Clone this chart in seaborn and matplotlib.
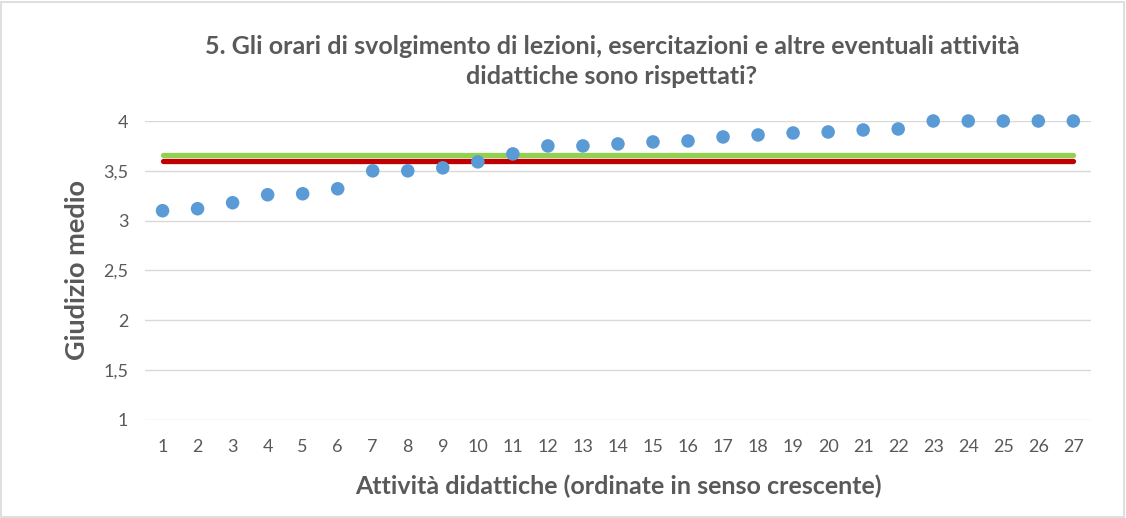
import matplotlib
matplotlib.use("Agg")
import matplotlib.pyplot as plt
import seaborn as sns
import numpy as np
import pandas as pd
from matplotlib.patches import Rectangle

# Data
attivita = list(range(1, 28))
giudizio = [3.10, 3.12, 3.18, 3.26, 3.27, 3.32, 3.50, 3.50, 3.53, 3.59,
            3.67, 3.75, 3.75, 3.77, 3.79, 3.80, 3.84, 3.86, 3.88, 3.89,
            3.91, 3.92, 4.00, 4.00, 4.00, 4.00, 4.00]
media_verde = 3.66
media_rossa = 3.60
y_ticks = [1, 1.5, 2, 2.5, 3, 3.5, 4]
y_labels = ["1", "1,5", "2", "2,5", "3", "3,5", "4"]

df = pd.DataFrame({"attivita": attivita, "giudizio": giudizio})
df["verde"] = media_verde
df["rossa"] = media_rossa

sns.set_style("white")
plt.rcParams['font.family'] = ['Lato', 'DejaVu Sans']

grey = "#595959"
fig = plt.figure(figsize=(11.26, 5.18), dpi=100)
ax = fig.add_axes([0.1288, 0.1892, 0.8400, 0.5772])

for y in y_ticks:
    ax.axhline(y, color="#D9D9D9", lw=1.0, zorder=0)

sns.lineplot(data=df, x="attivita", y="verde", ax=ax, color="#92D050", lw=3.8,
             solid_capstyle="round", zorder=2)
sns.lineplot(data=df, x="attivita", y="rossa", ax=ax, color="#C00000", lw=3.8,
             solid_capstyle="round", zorder=3)
sns.scatterplot(data=df, x="attivita", y="giudizio", ax=ax, color="#5B9BD5", s=95,
                edgecolor="none", zorder=4, clip_on=False)

ax.set_xlim(0.5, 27.5)
ax.set_ylim(1, 4)
ax.set_xticks(attivita)
ax.set_xticklabels([str(a) for a in attivita])
ax.set_yticks(y_ticks)
ax.set_yticklabels(y_labels)
ax.tick_params(axis="both", length=0, labelsize=13, colors=grey)
ax.tick_params(axis="x", pad=14)
ax.tick_params(axis="y", pad=12)
for s in ax.spines.values():
    s.set_visible(False)

ax.set_xlabel("Attività didattiche (ordinate in senso crescente)", fontsize=18,
              fontweight="bold", color=grey, labelpad=14)
ax.set_ylabel("Giudizio medio", fontsize=19.5, fontweight="bold", color=grey, labelpad=10)

fig.text(0.5435, 0.882, "5. Gli orari di svolgimento di lezioni, esercitazioni e altre eventuali attività\ndidattiche sono rispettati?",
         ha="center", va="center", fontsize=18, fontweight="bold", color=grey,
         linespacing=1.38)

fig.patches.append(Rectangle((0.001, 0.002), 0.997, 0.995, transform=fig.transFigure,
                             fill=False, edgecolor="#D9D9D9", lw=1.2))

fig.savefig("out.png", dpi=100, facecolor="white")
